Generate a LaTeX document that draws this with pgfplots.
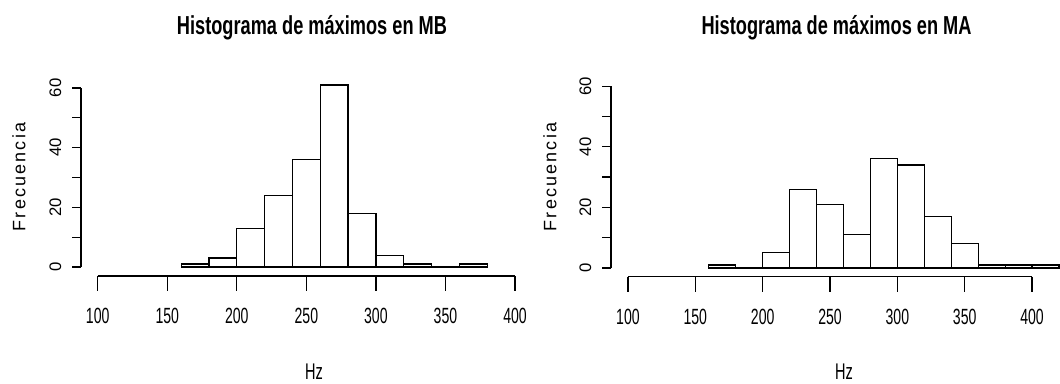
\documentclass[border=0pt]{standalone}
\usepackage{fontspec}
\usepackage{pgfplots}
\pgfplotsset{compat=1.18}
\setmainfont{Liberation Sans}
\newfontfamily\titlefont[FakeStretch=0.70]{Liberation Sans}
\newfontfamily\narrowfont[FakeStretch=0.64]{Liberation Sans}
\newfontfamily\spacedfont[LetterSpace=12]{Liberation Sans}
\newcommand\tickfont{\narrowfont\fontsize{16.5}{18}\selectfont}
\newcommand\ytickfont{\fontsize{12.5}{14}\selectfont}

\pgfplotsset{
  rhist/.style={
    scale only axis,
    anchor=south west,
    clip=false,
    axis line style={draw=none},
    tick style={draw=none},
    xtick={100,150,200,250,300,350,400},
    xticklabels={100,150,200,250,300,350,400},
    xticklabel style={font=\tickfont, inner sep=0pt, anchor=north},
    xticklabel shift=24pt,
    ytick={0,10,20,30,40,50,60},
    yticklabels={0,,20,,40,,60},
    yticklabel style={font=\ytickfont, inner sep=0pt, rotate=90, anchor=south},
    yticklabel shift=14.6pt,
  },
  bars/.style={ybar interval, fill=white, draw=black, line width=0.9pt},
}

\begin{document}
\begin{tikzpicture}
\useasboundingbox (0,0) rectangle (795pt,287.25pt);

% ---------- left: MB ----------
\begin{axis}[rhist,
  at={(60.75pt,80.25pt)},
  width=325.5pt, height=145.5pt,
  xmin=88, xmax=400, ymin=-3, ymax=62]
\addplot[bars] coordinates {
  (160,1) (180,3) (200,13) (220,24) (240,36) (260,61)
  (280,18) (300,4) (320,1) (340,0) (360,1) (380,1)};
\draw[line width=0.9pt] (axis cs:100,-3) -- (axis cs:400,-3);
\pgfplotsinvokeforeach{100,150,200,250,300,350,400}{
  \draw[line width=0.9pt] (axis cs:#1,-3) -- ([yshift=-11.25pt]axis cs:#1,-3);}
\draw[line width=0.9pt] (axis cs:88,0) -- (axis cs:88,60);
\pgfplotsinvokeforeach{0,10,20,30,40,50,60}{
  \draw[line width=0.9pt] (axis cs:88,#1) -- ([xshift=-6.75pt]axis cs:88,#1);}
\end{axis}

% ---------- right: MA ----------
\begin{axis}[rhist,
  at={(458.25pt,79.7pt)},
  width=336pt, height=147.5pt,
  xmin=87.4, xmax=420, ymin=-2.9, ymax=62]
\addplot[bars] coordinates {
  (160,1) (180,0) (200,5) (220,26) (240,21) (260,11) (280,36)
  (300,34) (320,17) (340,8) (360,1) (380,1) (400,1) (420,1)};
\draw[line width=0.9pt] (axis cs:100,-2.9) -- (axis cs:400,-2.9);
\pgfplotsinvokeforeach{100,150,200,250,300,350,400}{
  \draw[line width=0.9pt] (axis cs:#1,-2.9) -- ([yshift=-11.25pt]axis cs:#1,-2.9);}
\draw[line width=0.9pt] (axis cs:87.4,0) -- (axis cs:87.4,60);
\pgfplotsinvokeforeach{0,10,20,30,40,50,60}{
  \draw[line width=0.9pt] (axis cs:87.4,#1) -- ([xshift=-6.75pt]axis cs:87.4,#1);}
\end{axis}

% titles and axis labels
\node[anchor=base, inner sep=0pt, font=\titlefont\bfseries\fontsize{19.5}{22}\selectfont]
  at (234pt,261.5pt) {Histograma de máximos en MB};
\node[anchor=base, inner sep=0pt, font=\titlefont\bfseries\fontsize{19.5}{22}\selectfont]
  at (627.4pt,261.5pt) {Histograma de máximos en MA};
\node[anchor=base, inner sep=0pt, font=\narrowfont\fontsize{17}{19}\selectfont]
  at (235.5pt,3pt) {Hz};
\node[anchor=base, inner sep=0pt, font=\narrowfont\fontsize{17}{19}\selectfont]
  at (633pt,3pt) {Hz};
\node[rotate=90, anchor=center, inner sep=0pt, font=\spacedfont\fontsize{13.5}{15}\selectfont]
  at (14.25pt,154.5pt) {Frecuencia};
\node[rotate=90, anchor=center, inner sep=0pt, font=\spacedfont\fontsize{13.5}{15}\selectfont]
  at (412.5pt,154.5pt) {Frecuencia};
\end{tikzpicture}
\end{document}
